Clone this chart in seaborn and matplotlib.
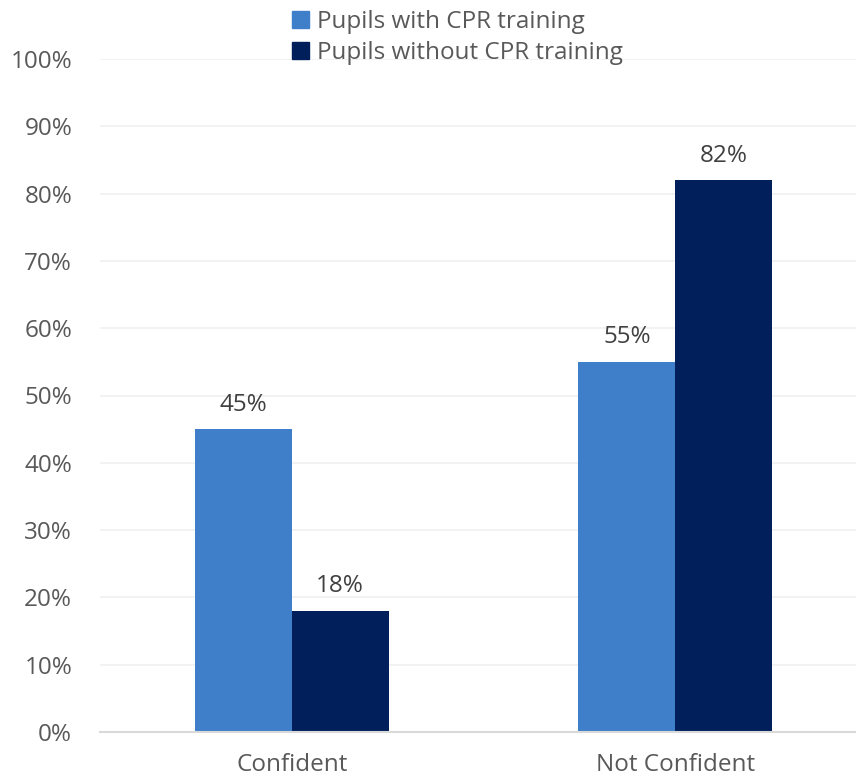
import pandas as pd
import seaborn as sns
import matplotlib
import matplotlib.pyplot as plt
from matplotlib.patches import Patch

# data
categories = ["Confident", "Not Confident"]
groups = ["Pupils with CPR training", "Pupils without CPR training"]
with_cpr = [0.45, 0.55]
without_cpr = [0.18, 0.82]

df = pd.DataFrame({
    "answer": categories * 2,
    "group": [groups[0]] * 2 + [groups[1]] * 2,
    "share": with_cpr + without_cpr,
})

colors = ["#3F7FCA", "#001F5B"]
fs = 17.5

sns.set_theme(style="white")
plt.rcParams['font.family'] = ['Open Sans', 'DejaVu Sans']

fig = plt.figure(figsize=(8.56, 7.8), dpi=100)
ax = fig.add_axes([100 / 856, 48 / 780, 767 / 856, 673 / 780])

sns.barplot(data=df, x="answer", y="share", hue="group", order=categories,
            hue_order=groups, palette=colors, width=0.505, gap=0,
            saturation=1, dodge=True, linewidth=0, ax=ax, legend=False)

ax.set_xlim(-0.5, 1.5)
ax.set_ylim(0, 1)
ax.set_yticks([i / 10 for i in range(11)])
ax.set_yticklabels([f"{i * 10}%" for i in range(11)])
ax.grid(axis="y", color="#F0F0F0", linewidth=1.2)
ax.set_axisbelow(True)
for s in ["top", "right", "left"]:
    ax.spines[s].set_visible(False)
ax.spines["bottom"].set_color("#D9D9D9")
ax.spines["bottom"].set_linewidth(1.5)
ax.tick_params(axis="both", length=0, labelsize=fs, colors="#595959")
ax.tick_params(axis="y", pad=20)
ax.tick_params(axis="x", pad=15)
ax.set_xlabel("")
ax.set_ylabel("")

# value labels
for cont in ax.containers:
    ax.bar_label(cont, labels=[f"{v * 100:.0f}%" for v in cont.datavalues],
                 padding=9, fontsize=fs, color="#404040")

handles = [Patch(color=c) for c in colors]
fig.legend(handles, groups, loc="upper left", bbox_to_anchor=(282 / 856, 1.0),
           frameon=False, fontsize=fs, labelcolor="#595959",
           handlelength=0.7, handleheight=0.7, handletextpad=0.35,
           labelspacing=0.3, borderaxespad=0)

fig.savefig("out.png", dpi=100)
